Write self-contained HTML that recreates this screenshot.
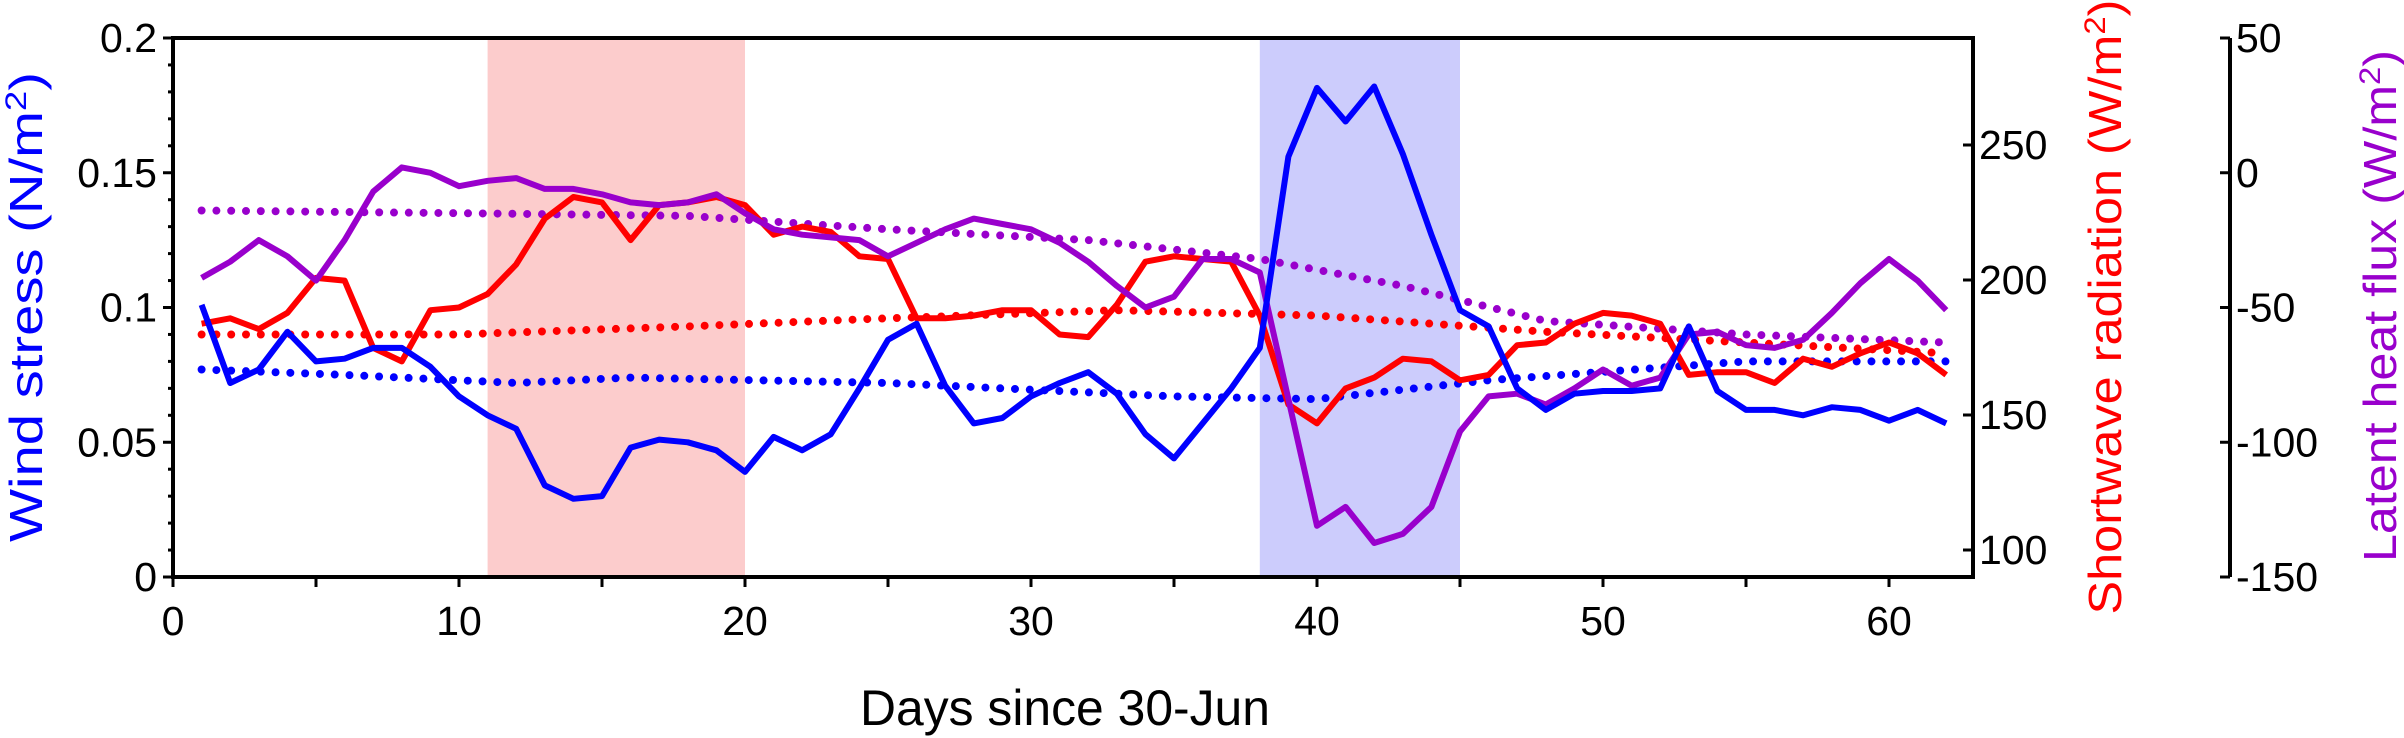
<!DOCTYPE html>
<html><head><meta charset="utf-8"><style>
html,body{margin:0;padding:0;background:#fff;}
svg{display:block;font-family:"Liberation Sans",sans-serif;}
</style></head><body>
<svg id="s" width="2404" height="738" viewBox="0 0 2404 738" xmlns="http://www.w3.org/2000/svg">
<rect x="0" y="0" width="2404" height="738" fill="#fff"/>
<g id="g"></g>
</svg>
<script>
const X0=173, DX=28.6, Y0=577, YT=38, K=(577-38)/0.2;
const X=d=>X0+d*DX, Y=v=>Y0-v*K;
const blue=[0.101,0.072,0.077,0.091,0.080,0.081,0.085,0.085,0.078,0.067,0.060,0.055,0.034,0.029,0.030,0.048,0.051,0.050,0.047,0.039,0.052,0.047,0.053,0.070,0.088,0.094,0.071,0.057,0.059,0.067,0.072,0.076,0.068,0.053,0.044,0.057,0.070,0.085,0.156,0.1815,0.169,0.182,0.157,0.127,0.099,0.093,0.070,0.062,0.068,0.069,0.069,0.070,0.093,0.069,0.062,0.062,0.060,0.063,0.062,0.058,0.062,0.057];
const red=[0.094,0.096,0.092,0.098,0.111,0.110,0.085,0.080,0.099,0.100,0.105,0.116,0.133,0.141,0.139,0.125,0.138,0.139,0.141,0.138,0.127,0.130,0.128,0.119,0.118,0.096,0.096,0.097,0.099,0.099,0.090,0.089,0.101,0.117,0.119,0.118,0.117,0.097,0.064,0.057,0.070,0.074,0.081,0.080,0.073,0.075,0.086,0.087,0.094,0.098,0.097,0.094,0.075,0.076,0.076,0.072,0.081,0.078,0.083,0.087,0.083,0.075];
const pur=[0.111,0.117,0.125,0.119,0.110,0.125,0.143,0.152,0.150,0.145,0.147,0.148,0.144,0.144,0.142,0.139,0.138,0.139,0.142,0.135,0.129,0.127,0.126,0.125,0.119,0.124,0.129,0.133,0.131,0.129,0.124,0.117,0.108,0.100,0.104,0.118,0.118,0.113,0.066,0.019,0.026,0.0126,0.016,0.026,0.054,0.067,0.068,0.064,0.070,0.077,0.071,0.074,0.090,0.091,0.086,0.085,0.088,0.098,0.109,0.118,0.110,0.099];
function interp(k){const o=[];for(let d=1;d<=62;d++){let i=0;while(i<k.length-2&&k[i+1][0]<d)i++;const a=k[i],b=k[i+1];const t=(d-a[0])/(b[0]-a[0]);o.push(a[1]+(b[1]-a[1])*t);}return o;}
const bd=interp([[1,0.077],[6,0.075],[12,0.072],[16,0.074],[25,0.072],[35,0.067],[40,0.066],[46,0.073],[55,0.080],[62,0.080]]);
const rd=interp([[1,0.090],[10,0.090],[18,0.093],[25,0.096],[33,0.099],[40,0.097],[48,0.091],[55,0.087],[62,0.083]]);
const pd=interp([[1,0.136],[10,0.135],[18,0.134],[25,0.129],[32,0.125],[38,0.118],[43,0.108],[48,0.095],[55,0.090],[62,0.087]]);
const path=a=>a.map((v,i)=>(i?'L':'M')+X(i+1).toFixed(1)+' '+Y(v).toFixed(1)).join(' ');
let h='';
h+=`<rect x="${X(11)}" y="${YT}" width="${9*DX}" height="${Y0-YT}" fill="#fccccc"/>`;
h+=`<rect x="${X(38)}" y="${YT}" width="${7*DX}" height="${Y0-YT}" fill="#ccccfc"/>`;
const dot=(a,c)=>`<path d="${path(a)}" fill="none" stroke="${c}" stroke-width="8" stroke-linecap="round" stroke-dasharray="0 14.8"/>`;
const sol=(a,c)=>`<path d="${path(a)}" fill="none" stroke="${c}" stroke-width="6" stroke-linejoin="round"/>`;
h+=dot(bd,'#0000ff')+dot(rd,'#ff0000')+dot(pd,'#9900cc');
h+=sol(red,'#ff0000')+sol(pur,'#9900cc')+sol(blue,'#0000ff');
h+=`<path d="M${X0} ${YT} H1973 V${Y0} H${X0} Z" fill="none" stroke="#000" stroke-width="4"/>`;
for(let d=0;d<=60;d+=5){const x=X(d);h+=`<line x1="${x}" y1="${Y0}" x2="${x}" y2="${Y0+10}" stroke="#000" stroke-width="3"/>`;
 if(d%10==0)h+=`<text x="${x}" y="635" font-size="41" text-anchor="middle">${d}</text>`;}
for(let i=0;i<=20;i++){const y=Y(i*0.01);const maj=i%5==0;h+=`<line x1="${X0-(maj?10:5)}" y1="${y}" x2="${X0}" y2="${y}" stroke="#000" stroke-width="3"/>`;}
[['0',0],['0.05',0.05],['0.1',0.1],['0.15',0.15],['0.2',0.2]].forEach(([t,v])=>h+=`<text x="157" y="${Y(v)+14}" font-size="41" text-anchor="end">${t}</text>`);
const SW=v=>550-(v-100)*2.7;
[100,150,200,250].forEach(v=>{h+=`<line x1="1963" y1="${SW(v)}" x2="1973" y2="${SW(v)}" stroke="#000" stroke-width="3"/><text x="1979" y="${SW(v)+14}" font-size="41">${v}</text>`;});
h+=`<line x1="2230" y1="${YT}" x2="2230" y2="${Y0}" stroke="#000" stroke-width="4"/>`;
const LH=v=>38+(50-v)*2.695;
[50,0,-50,-100,-150].forEach(v=>{h+=`<line x1="2220" y1="${LH(v)}" x2="2230" y2="${LH(v)}" stroke="#000" stroke-width="3"/><text x="2236" y="${LH(v)+14}" font-size="41">${v}</text>`;});
h+=`<text x="1065" y="725" font-size="50" text-anchor="middle" textLength="410" lengthAdjust="spacingAndGlyphs">Days since 30-Jun</text>`;
h+=`<text transform="translate(42,307) rotate(-90)" font-size="46" fill="#0000ff" text-anchor="middle" textLength="470" lengthAdjust="spacingAndGlyphs">Wind stress (N/m<tspan font-size="30" dy="-16">2</tspan><tspan dy="16">)</tspan></text>`;
h+=`<text transform="translate(2121,307) rotate(-90)" font-size="46" fill="#ff0000" text-anchor="middle" textLength="615" lengthAdjust="spacingAndGlyphs">Shortwave radiation (W/m<tspan font-size="30" dy="-16">2</tspan><tspan dy="16">)</tspan></text>`;
h+=`<text transform="translate(2396,306) rotate(-90)" font-size="46" fill="#9900cc" text-anchor="middle" textLength="512" lengthAdjust="spacingAndGlyphs">Latent heat flux (W/m<tspan font-size="30" dy="-16">2</tspan><tspan dy="16">)</tspan></text>`;
document.getElementById('g').innerHTML=h;
</script>
</body></html>
